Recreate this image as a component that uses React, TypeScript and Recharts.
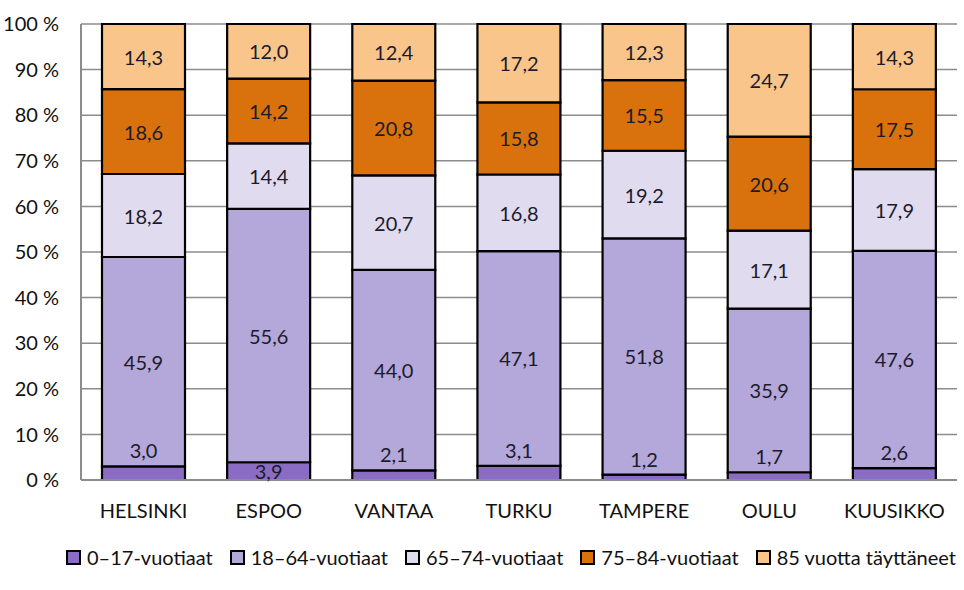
import React from 'react';
import { BarChart, Bar, XAxis, YAxis, CartesianGrid } from 'recharts';

const cities = ['HELSINKI', 'ESPOO', 'VANTAA', 'TURKU', 'TAMPERE', 'OULU', 'KUUSIKKO'];

const age0to17 = [3.0, 3.9, 2.1, 3.1, 1.2, 1.7, 2.6];
const age18to64 = [45.9, 55.6, 44.0, 47.1, 51.8, 35.9, 47.6];
const age65to74 = [18.2, 14.4, 20.7, 16.8, 19.2, 17.1, 17.9];
const age75to84 = [18.6, 14.2, 20.8, 15.8, 15.5, 20.6, 17.5];
const age85plus = [14.3, 12.0, 12.4, 17.2, 12.3, 24.7, 14.3];

const yTicks = [0, 0.1, 0.2, 0.3, 0.4, 0.5, 0.6, 0.7, 0.8, 0.9, 1];

const series = [
  { key: 's1', name: '0–17-vuotiaat', values: age0to17, color: '#8a6cc4' },
  { key: 's2', name: '18–64-vuotiaat', values: age18to64, color: '#b4a7da' },
  { key: 's3', name: '65–74-vuotiaat', values: age65to74, color: '#e1dbf0' },
  { key: 's4', name: '75–84-vuotiaat', values: age75to84, color: '#d9720c' },
  { key: 's5', name: '85 vuotta täyttäneet', values: age85plus, color: '#f9c58b' },
];

const data = cities.map((city, i) => {
  const row: any = { city };
  series.forEach(s => { row[s.key] = s.values[i]; });
  return row;
});

const FONT = 'Lato, "Open Sans", sans-serif';
const FS = 20;
const fmt = (v: number) => v.toFixed(1).replace('.', ',');

// small first-segment labels sit just above the thin bar part
const makeLabel = (values: number[], first: boolean) => (props: any) => {
  const { x, y, width, height, index } = props;
  const v = values[index];
  const small = first && v < 3.5;
  const cy = small ? y - 16 : y + height / 2;
  return (
    <text
      x={x + width / 2}
      y={cy}
      textAnchor="middle"
      dominantBaseline="central"
      fontFamily={FONT}
      fontSize={FS}
      fill="#1b1b2b"
    >
      {fmt(v)}
    </text>
  );
};

export default function App() {
  return (
    <div style={{ position: 'absolute', left: 0, top: 0, width: 964, height: 590, background: '#fff' }}>
      <BarChart
        width={964}
        height={590}
        data={data}
        stackOffset="expand"
        barCategoryGap={21}
        margin={{ top: 24, right: 7, bottom: 70, left: 0 }}
      >
        <CartesianGrid vertical={false} stroke="#8c8c8c" strokeWidth={1.5} />
        <XAxis
          dataKey="city"
          height={40}
          tickLine={false}
          axisLine={{ stroke: '#8c8c8c', strokeWidth: 2 }}
          tickMargin={18}
          tick={{ fontFamily: FONT, fontSize: FS, fill: '#111' }}
        />
        <YAxis
          width={81}
          domain={[0, 1]}
          ticks={yTicks}
          interval={0}
          tickLine={false}
          tickSize={0}
          tickMargin={22}
          axisLine={{ stroke: '#8c8c8c', strokeWidth: 2 }}
          tickFormatter={(v: number) => `${Math.round(v * 100)} %`}
          tick={{ fontFamily: FONT, fontSize: FS, fill: '#111' }}
        />
        {series.map((s, i) => (
          <Bar
            key={s.key}
            dataKey={s.key}
            name={s.name}
            stackId="a"
            fill={s.color}
            stroke="#000"
            strokeWidth={2.2}
            isAnimationActive={false}
            label={makeLabel(s.values, i === 0)}
          />
        ))}
      </BarChart>
      <div
        style={{
          position: 'absolute',
          top: 545,
          left: 66,
          display: 'flex',
          fontFamily: FONT,
          fontSize: FS,
          color: '#111',
          whiteSpace: 'nowrap',
        }}
      >
        {series.map(s => (
          <div key={s.key} style={{ display: 'flex', alignItems: 'center', marginRight: 17 }}>
            <span
              style={{
                display: 'inline-block',
                width: 11,
                height: 11,
                background: s.color,
                border: '2px solid #000',
                marginRight: 6,
              }}
            />
            <span>{s.name}</span>
          </div>
        ))}
      </div>
    </div>
  );
}
